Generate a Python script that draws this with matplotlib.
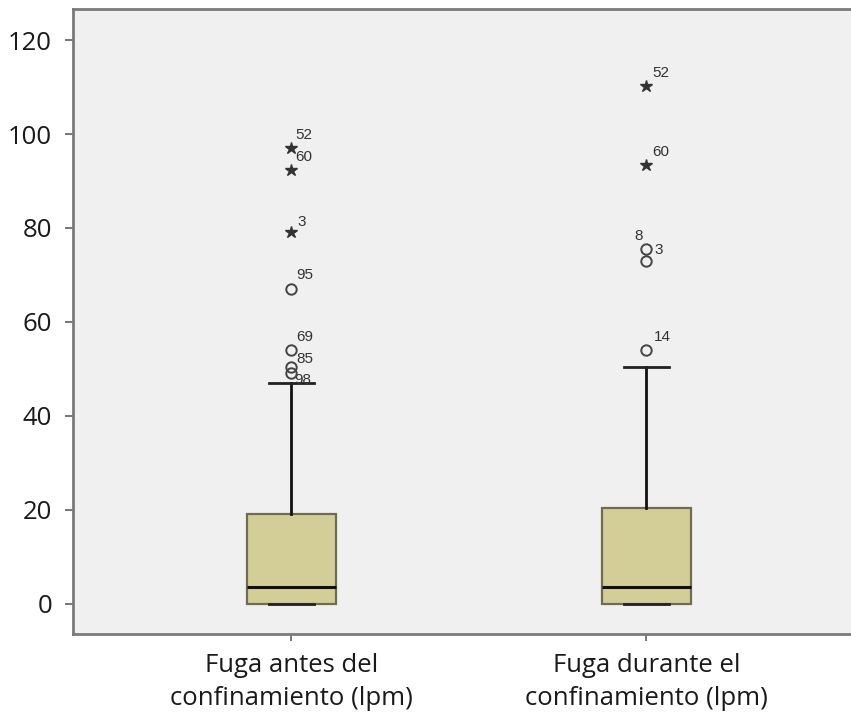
import matplotlib
matplotlib.use("Agg")
import matplotlib.pyplot as plt

# ---- data ----
categories = ["Fuga antes del\nconfinamiento (lpm)", "Fuga durante el\nconfinamiento (lpm)"]
q1 = [0.0, 0.0]
median = [3.6, 3.6]
q3 = [19.1, 20.4]
whisker_low = [0.0, 0.0]
whisker_high = [47.0, 50.4]

# outliers: (group index, value, case label, kind)  kind: 'o' mild, '*' extreme
out_group = [0, 0, 0, 0, 0, 0, 0, 1, 1, 1, 1, 1]
out_value = [97.0, 92.3, 79.1, 67.0, 54.0, 50.4, 49.1, 110.2, 93.4, 75.5, 73.0, 54.0]
out_label = ["52", "60", "3", "95", "69", "85", "98", "52", "60", "8", "3", "14"]
out_kind = ["*", "*", "*", "o", "o", "o", "o", "*", "*", "o", "o", "o"]
# label offsets in pixels (dx, dy)
label_dx = [4, 4, 6, 5, 5, 5, 3, 6, 6, -12, 8, 7]
label_dy = [13, 13, 10, 14, 13, 8, -7, 13, 13, 13, 11, 13]

yticks = [0, 20, 40, 60, 80, 100, 120]

# ---- figure ----
fig = plt.figure(figsize=(8.51, 7.24), dpi=100)
ax = fig.add_axes([73/851, 90/724, 1 - 73/851 + 0.01, (634 - 9)/724])
ax.set_facecolor("#f0f0f0")
fig.patch.set_facecolor("white")

positions = [1, 2]
stats = []
for i in range(2):
    stats.append(dict(med=median[i], q1=q1[i], q3=q3[i],
                      whislo=whisker_low[i], whishi=whisker_high[i], fliers=[]))

ax.bxp(stats, positions=positions, widths=0.25, patch_artist=True,
       showfliers=False, capwidths=0.125,
       boxprops=dict(facecolor="#d3ce97", edgecolor="#6f6c52", linewidth=1.6),
       medianprops=dict(color="#111111", linewidth=2.2),
       whiskerprops=dict(color="#111111", linewidth=2.0),
       capprops=dict(color="#222222", linewidth=2.0))

for g, v, lab, k, dx, dy in zip(out_group, out_value, out_label, out_kind, label_dx, label_dy):
    x = positions[g]
    if k == "*":
        ax.plot([x], [v], marker="*", markersize=9, color="#333333",
                markeredgecolor="#333333", linestyle="none", zorder=5)
    else:
        ax.plot([x], [v], marker="o", markersize=7.5, markerfacecolor="none",
                markeredgecolor="#444444", markeredgewidth=1.4, linestyle="none", zorder=5)
    ax.annotate(lab, (x, v), xytext=(dx, dy), textcoords="offset pixels",
                fontsize=11, family="Liberation Sans", color="#333333",
                ha="left", va="center")

ax.set_xlim(0.385, 2.60)
ax.set_ylim(-6.4, 126.6)
ax.set_yticks(yticks)
ax.set_yticklabels([str(t) for t in yticks], family="Open Sans", fontsize=18.5, color="#1a1a1a")
ax.set_xticks(positions)
ax.set_xticklabels(categories, family="Open Sans", fontsize=18.5, color="#1a1a1a", linespacing=1.4)

ax.tick_params(axis="y", direction="out", length=6, width=1.4, color="#777777", pad=9)
ax.tick_params(axis="x", direction="out", length=5, width=1.4, color="#777777", pad=9)

for side in ["top", "bottom", "left"]:
    ax.spines[side].set_color("#7a7a7a")
    ax.spines[side].set_linewidth(2.0)
ax.spines["right"].set_visible(False)

fig.savefig("out.png", dpi=100, facecolor="white")
